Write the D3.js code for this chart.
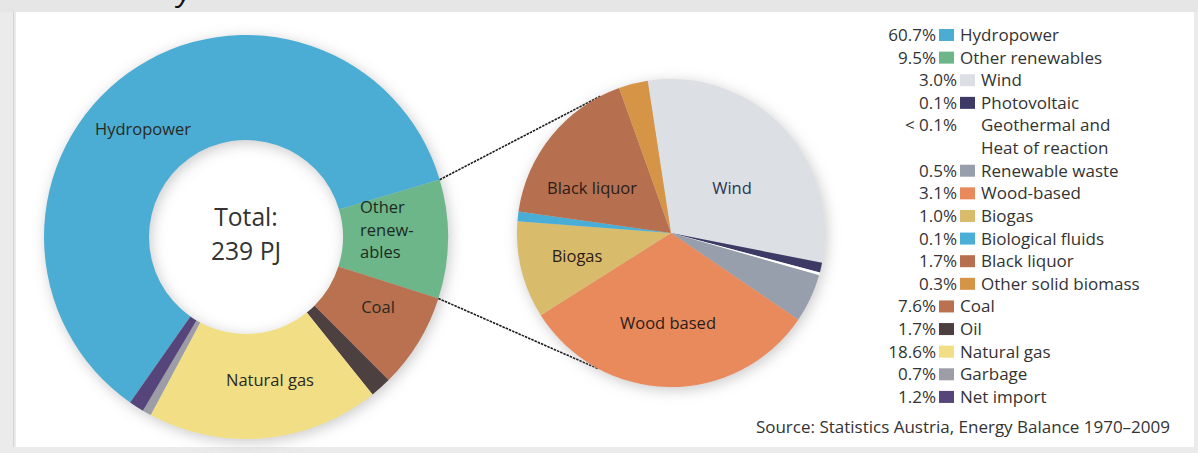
<!DOCTYPE html>
<html>
<head>
<meta charset="utf-8">
<script src="https://cdn.jsdelivr.net/npm/d3@7/dist/d3.min.js"></script>
<style>
  html, body { margin: 0; padding: 0; background: #ebebeb; }
  svg { display: block; }
  text { font-family: "Open Sans", "DejaVu Sans", sans-serif; }
</style>
</head>
<body>
<svg id="chart" width="1198" height="453"></svg>
<script>
// ---------- data ----------
const mainCategories = ["Hydropower", "Other renewables", "Coal", "Oil", "Natural gas", "Garbage", "Net import"];
const mainValues     = [60.7, 9.5, 7.6, 1.7, 18.6, 0.7, 1.2];
const mainPercents   = ["60.7%", "9.5%", "7.6%", "1.7%", "18.6%", "0.7%", "1.2%"];
const mainColors     = ["#4badd4", "#6cb68a", "#b9714f", "#4d3f40", "#f1de85", "#9c9da7", "#56457a"];
const mainLabels     = ["Hydropower", ["Other", "renew-", "ables"], "Coal", "", "Natural gas", "", ""];

const subCategories  = ["Wind", "Photovoltaic", "Geothermal and|Heat of reaction", "Renewable waste", "Wood-based", "Biogas", "Biological fluids", "Black liquor", "Other solid biomass"];
const subValues      = [3.0, 0.1, 0.03, 0.5, 3.1, 1.0, 0.1, 1.7, 0.3];
const subPercents    = ["3.0%", "0.1%", "< 0.1%", "0.5%", "3.1%", "1.0%", "0.1%", "1.7%", "0.3%"];
const subColors      = ["#dcdfe3", "#3d3a66", "none", "#989fac", "#e98a5c", "#d9bb6c", "#4aaed6", "#b7704f", "#d69447"];
const subLabels      = ["Wind", "", "", "", "Wood based", "Biogas", "", "Black liquor", ""];

const totalText = ["Total:", "239 PJ"];
const sourceText = "Source: Statistics Austria, Energy Balance 1970–2009";

// ---------- layout ----------
const svg = d3.select("#chart");
const W = 1198, H = 453;

svg.append("rect").attr("x", 0).attr("y", 0).attr("width", W).attr("height", H).attr("fill", "#ebebeb");
svg.append("rect").attr("x", 0).attr("y", 0).attr("width", W).attr("height", 12).attr("fill", "#e6e6e6");
svg.append("rect").attr("x", 16).attr("y", 12).attr("width", 1178).attr("height", 435).attr("fill", "#ffffff");
svg.append("line").attr("x1", 13.5).attr("x2", 13.5).attr("y1", 12).attr("y2", 447).attr("stroke", "#d4d4d4").attr("stroke-width", 1);
// fragment of the cropped title (only its descender shows in the reference)
svg.append("text").attr("x", 178).attr("y", 1).attr("font-size", 30).attr("font-style", "italic")
   .attr("fill", "#111").text("y");

const defs = svg.append("defs");
const f = defs.append("filter").attr("id", "shadow").attr("x", "-20%").attr("y", "-20%").attr("width", "140%").attr("height", "140%");
f.append("feGaussianBlur").attr("in", "SourceAlpha").attr("stdDeviation", 7).attr("result", "b");
f.append("feOffset").attr("in", "b").attr("dx", 2).attr("dy", 3).attr("result", "o");
f.append("feFlood").attr("flood-color", "#888").attr("flood-opacity", 0.45).attr("result", "c");
f.append("feComposite").attr("in", "c").attr("in2", "o").attr("operator", "in").attr("result", "s");
const fm = f.append("feMerge");
fm.append("feMergeNode").attr("in", "s");
fm.append("feMergeNode").attr("in", "SourceGraphic");

const deg = Math.PI / 180;

// ---------- donut ----------
const dc = { x: 246, y: 237 }, dR = 202, dr = 97;
const donutStart = -145 * deg;
const donutPie = d3.pie().sort(null).value(d => d.v)
  .startAngle(donutStart).endAngle(donutStart + 2 * Math.PI);
const mainData = mainCategories.map((c, i) => ({ c, v: mainValues[i], color: mainColors[i], label: mainLabels[i] }));
const donutArcs = donutPie(mainData);
const donutArc = d3.arc().innerRadius(dr).outerRadius(dR);

const gD = svg.append("g").attr("transform", `translate(${dc.x},${dc.y})`);
gD.append("g").attr("filter", "url(#shadow)")
  .selectAll("path").data(donutArcs).join("path")
  .attr("d", donutArc).attr("fill", d => d.data.color);

const donutLabelPos = { "Hydropower": [-103, -102], "Other renewables": [114, -24], "Coal": [132, 76], "Natural gas": [24, 149] };
donutArcs.forEach(a => {
  const lab = a.data.label;
  if (!lab) return;
  const p = donutLabelPos[a.data.c];
  if (Array.isArray(lab)) {
    const t = gD.append("text").attr("x", p[0]).attr("y", p[1]).attr("font-size", 16.5).attr("fill", "#1d2a22");
    lab.forEach((s, k) => t.append("tspan").attr("x", p[0]).attr("dy", k === 0 ? 0 : 22.5).text(s));
  } else {
    gD.append("text").attr("x", p[0]).attr("y", p[1]).attr("text-anchor", "middle")
      .attr("font-size", 16.5).attr("fill", "#2a2a22").text(lab);
  }
});

// center text (condensed face)
const gC = gD.append("g").attr("transform", "scale(0.95,1)");
totalText.forEach((s, k) => {
  gC.append("text").attr("x", 0).attr("y", k === 0 ? -11 : 23).attr("text-anchor", "middle")
    .attr("font-family", "'DejaVu Sans Condensed', 'DejaVu Sans', sans-serif")
    .attr("font-size", 26).attr("fill", "#333").text(s);
});

// ---------- pie ----------
const pc = { x: 671, y: 233 }, pR = 154;
const pieStart = -8.7 * deg;
const subPie = d3.pie().sort(null).value(d => d.v).startAngle(pieStart).endAngle(pieStart + 2 * Math.PI);
const subData = subCategories.map((c, i) => ({ c, v: subValues[i], color: subColors[i], label: subLabels[i] }));
const subArcs = subPie(subData);
const subArc = d3.arc().innerRadius(0).outerRadius(pR);

const other = donutArcs[1];
const edgePt = (cx, cy, r, a) => [cx + r * Math.sin(a), cy - r * Math.cos(a)];
const p1 = edgePt(dc.x, dc.y, dR, other.startAngle);
const p2 = edgePt(dc.x, dc.y, dR, other.endAngle);
const q1 = edgePt(pc.x, pc.y, pR, -27 * deg);
const q2 = edgePt(pc.x, pc.y, pR, 208 * deg);
[[p1, q1], [p2, q2]].forEach(([a, b]) => {
  svg.append("line").attr("x1", a[0]).attr("y1", a[1]).attr("x2", b[0]).attr("y2", b[1])
    .attr("stroke", "#1a1a1a").attr("stroke-width", 1.6).attr("stroke-dasharray", "2.5,1");
});

const gP = svg.append("g").attr("transform", `translate(${pc.x},${pc.y})`);
gP.append("g").attr("filter", "url(#shadow)")
  .selectAll("path").data(subArcs).join("path")
  .attr("d", subArc).attr("fill", d => d.data.color === "none" ? "#ffffff" : d.data.color);

const pieLabelPos = { "Wind": [61, -45], "Black liquor": [-79, -45], "Biogas": [-94, 23], "Wood-based": [-3, 90] };
subArcs.forEach(a => {
  if (!a.data.label) return;
  const p = pieLabelPos[a.data.c];
  gP.append("text").attr("x", p[0]).attr("y", p[1] + 6).attr("text-anchor", "middle")
    .attr("font-size", 16.5).attr("fill", a.data.c === "Wind" ? "#2b3550" : "#2a1d18").text(a.data.label);
});

// ---------- legend ----------
const legendRows = [];
mainCategories.forEach((c, i) => {
  legendRows.push({ pct: mainPercents[i], name: c, color: mainColors[i], indent: 0 });
  if (i === 1) {
    subCategories.forEach((s, j) => {
      const parts = s.split("|");
      legendRows.push({ pct: subPercents[j], name: parts[0], color: subColors[j], indent: 21 });
      if (parts[1]) legendRows.push({ pct: "", name: parts[1], color: "none", indent: 21 });
    });
  }
});
const ly0 = 35, lstep = 22.62;
const gL = svg.append("g");
legendRows.forEach((r, i) => {
  const y = ly0 + i * lstep;
  const xr = 936 + r.indent;
  if (r.pct) gL.append("text").attr("x", xr).attr("y", y + 6).attr("text-anchor", "end")
    .attr("font-size", 17).attr("fill", "#333").text(r.pct);
  if (r.color !== "none") gL.append("rect").attr("x", xr + 3).attr("y", y - 6).attr("width", 15).attr("height", 12).attr("fill", r.color);
  gL.append("text").attr("x", xr + 24).attr("y", y + 6)
    .attr("font-size", 17).attr("fill", "#333").text(r.name);
});

svg.append("text").attr("x", 1170).attr("y", 433).attr("text-anchor", "end")
  .attr("font-size", 17).attr("fill", "#333").text(sourceText);
</script>
</body>
</html>
